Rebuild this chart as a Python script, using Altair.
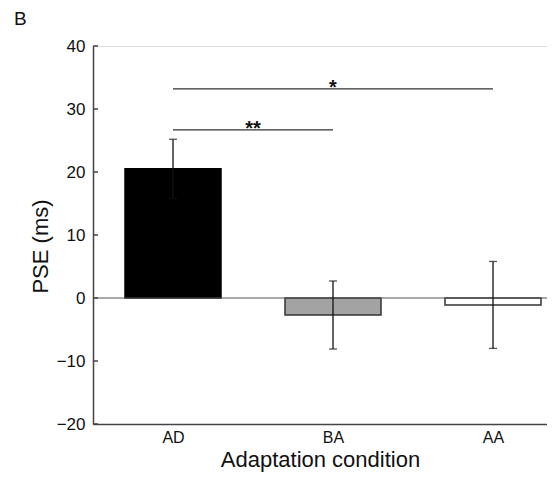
import json
import altair as alt
import pandas as pd

# ---- data ----
conditions = ["AD", "BA", "AA"]
positions = [1, 2, 3]
means = [20.5, -2.7, -1.1]
sems = [4.7, 5.4, 6.9]
fills = ["#000000", "#a3a3a3", "#ffffff"]
strokes = ["#000000", "#333333", "#333333"]
y_ticks = [-20, -10, 0, 10, 20, 30, 40]
sig_from = [1, 1]
sig_to = [2, 3]
sig_y = [26.7, 33.2]
sig_label = ["**", "*"]
half_width = 0.3

FONT = "Liberation Sans"

bars = pd.DataFrame({
    "cond": conditions,
    "pos": positions,
    "mean": means,
    "sem": sems,
    "fill": fills,
    "stroke": strokes,
})
bars["left"] = bars["pos"] - half_width
bars["right"] = bars["pos"] + half_width
bars["lo"] = bars["mean"] - bars["sem"]
bars["hi"] = bars["mean"] + bars["sem"]

sig = pd.DataFrame({"x1": sig_from, "x2": sig_to, "y": sig_y, "label": sig_label})
sig["mid"] = (sig["x1"] + sig["x2"]) / 2

ticks = pd.DataFrame({"y": y_ticks})
zero = pd.DataFrame({"y": [0]})

label_expr = json.dumps(conditions) + "[datum.value - 1]"

xscale = alt.Scale(domain=[0.5, 3.3375], nice=False, zero=False)
yscale = alt.Scale(domain=[-20, 40], nice=False, zero=False)

x_axis = alt.Axis(
    values=positions, labelExpr=label_expr, ticks=False, grid=False,
    title="Adaptation condition", labelFontSize=16, titleFontSize=22,
    labelFont=FONT, titleFont=FONT, labelColor="#111", titleColor="#111",
    titleFontWeight="normal", labelPadding=5, titlePadding=4,
    domainColor="#444", domainWidth=1.5,
)
y_axis = alt.Axis(
    values=y_ticks, ticks=False, grid=False, title="PSE (ms)",
    labelFontSize=17, titleFontSize=22, labelFont=FONT, titleFont=FONT,
    labelColor="#111", titleColor="#111", titleFontWeight="normal",
    labelPadding=8, titlePadding=4, domainColor="#444", domainWidth=1.5,
    titleY=200,
)

base_bars = alt.Chart(bars).mark_bar(strokeWidth=1.5).encode(
    x=alt.X("left:Q", scale=xscale, axis=x_axis),
    x2="right:Q",
    y=alt.Y("mean:Q", scale=yscale, axis=y_axis),
    y2=alt.datum(0),
    fill=alt.Fill("fill:N", scale=None),
    stroke=alt.Stroke("stroke:N", scale=None),
)

zero_line = alt.Chart(zero).mark_rule(color="#555", strokeWidth=1).encode(y="y:Q")

inward_ticks = alt.Chart(ticks).mark_rule(color="#444", strokeWidth=1.5).encode(
    y="y:Q", x=alt.value(0), x2=alt.value(5)
)

err_line = alt.Chart(bars).mark_rule(color="#111", strokeWidth=1.3).encode(
    x="pos:Q", y="lo:Q", y2="hi:Q"
)
err_cap_hi = alt.Chart(bars).mark_tick(orient="horizontal", color="#111", size=8, thickness=1.3).encode(
    x="pos:Q", y="hi:Q"
)
err_cap_lo = alt.Chart(bars).mark_tick(orient="horizontal", color="#111", size=8, thickness=1.3).encode(
    x="pos:Q", y="lo:Q"
)

sig_lines = alt.Chart(sig).mark_rule(color="#333", strokeWidth=1.2).encode(
    x="x1:Q", x2="x2:Q", y="y:Q"
)
sig_text = alt.Chart(sig).mark_text(
    font=FONT, fontSize=20, fontWeight="bold", baseline="alphabetic", dy=5, color="#111"
).encode(x="mid:Q", y="y:Q", text="label:N")

chart = alt.layer(
    base_bars, zero_line, inward_ticks, err_line, err_cap_hi, err_cap_lo,
    sig_lines, sig_text,
).properties(
    width=454,
    height=378,
    autosize=alt.AutoSizeParams(type="none"),
    padding={"left": 85, "top": 38, "right": 0, "bottom": 52},
    title=alt.TitleParams(
        text="B", anchor="start", frame="group", dx=-79, offset=8,
        fontSize=19, font=FONT, fontWeight="normal", color="#111",
    ),
).configure_view(stroke=None).configure(background="white")

chart.save("out.html", embed_options={"renderer": "svg", "actions": False})
